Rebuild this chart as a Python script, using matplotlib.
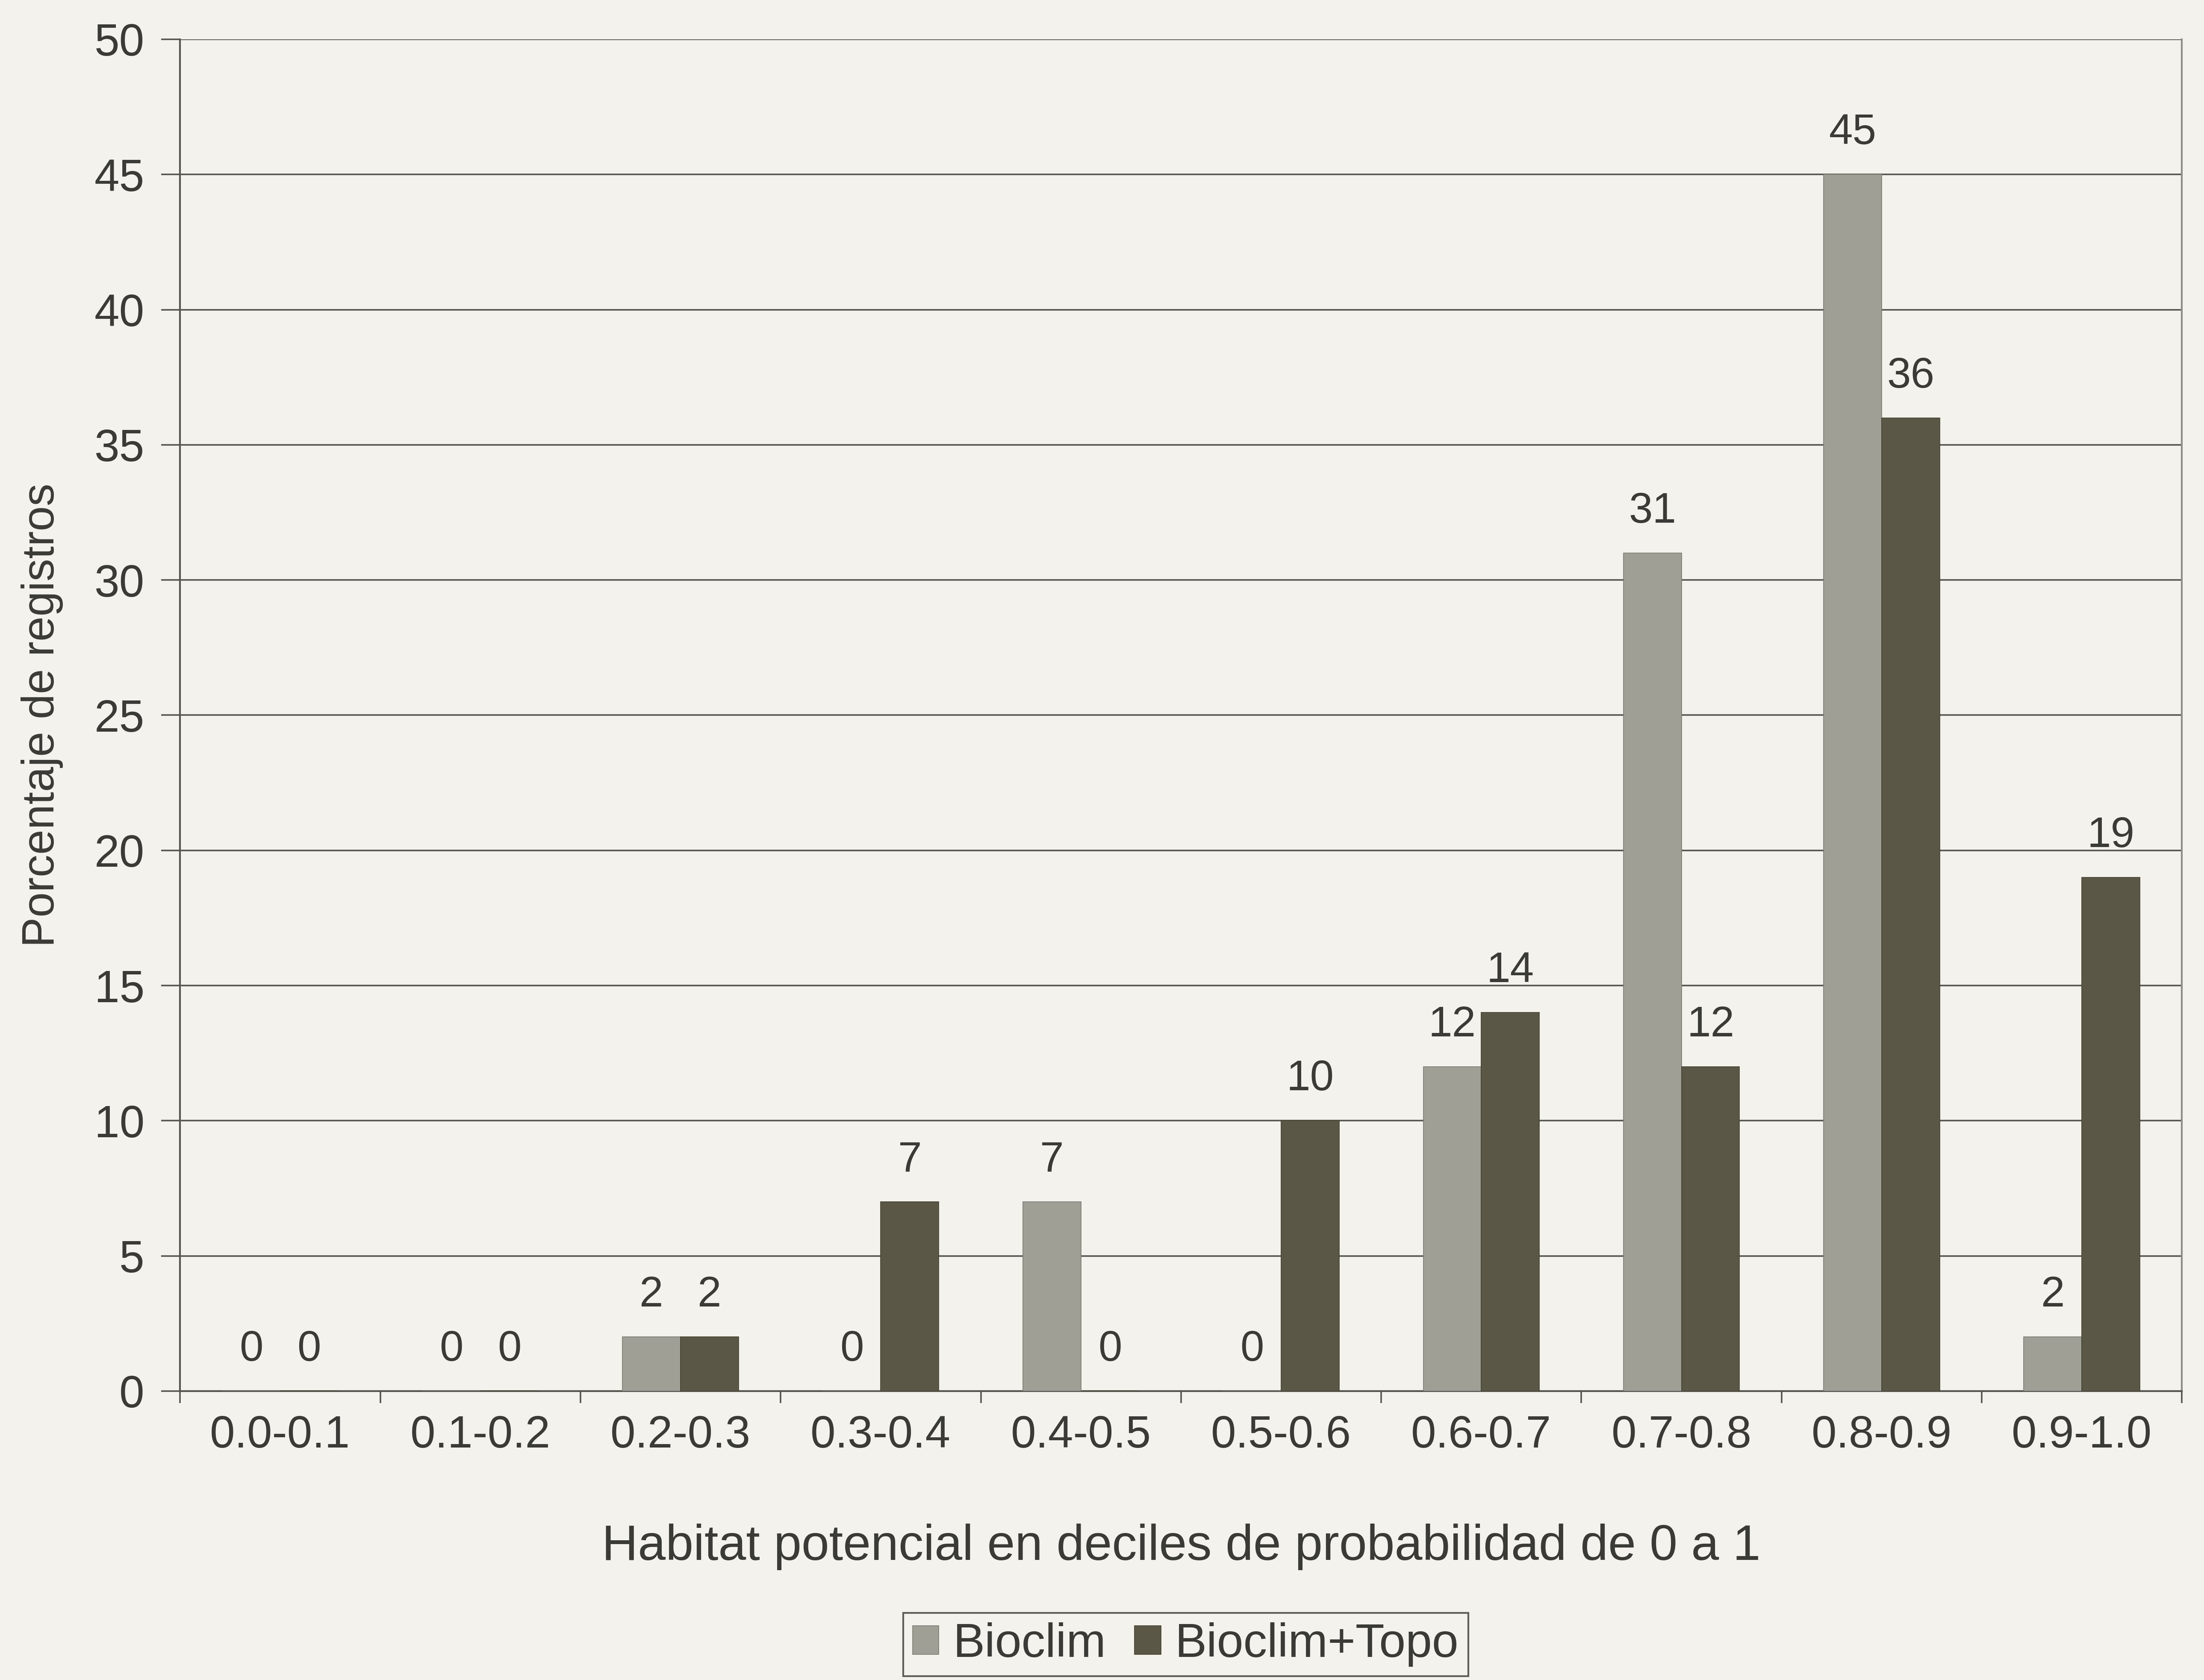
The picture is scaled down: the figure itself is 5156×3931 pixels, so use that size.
import numpy as np
import matplotlib
matplotlib.use("Agg")
import matplotlib.pyplot as plt

categories = ["0.0-0.1", "0.1-0.2", "0.2-0.3", "0.3-0.4", "0.4-0.5",
              "0.5-0.6", "0.6-0.7", "0.7-0.8", "0.8-0.9", "0.9-1.0"]
bioclim = [0, 0, 2, 0, 7, 0, 12, 31, 45, 2]
bioclim_topo = [0, 0, 2, 7, 0, 10, 14, 12, 36, 19]
series_names = ["Bioclim", "Bioclim+Topo"]
y_ticks = [0, 5, 10, 15, 20, 25, 30, 35, 40, 45, 50]

BG = "#f3f2ec"
LIGHT = "#9f9f96"
DARK = "#5a5747"
INK = "#3a3a36"
GRID = "#55554f"

main_font = ["Liberation Sans", "DejaVu Sans"]

DPI = 200
fig = plt.figure(figsize=(5156 / DPI, 3931 / DPI), dpi=DPI, facecolor=BG)
ax = fig.add_axes([0.0817, 0.172, 0.9083, 0.8046], facecolor=BG)

x = np.arange(len(categories))
w = 0.29
ax.bar(x - w / 2, bioclim, width=w, color=LIGHT, edgecolor="#7a7a72",
       linewidth=0.6, label=series_names[0], zorder=3)
ax.bar(x + w / 2, bioclim_topo, width=w, color=DARK, edgecolor="#45422f",
       linewidth=0.6, label=series_names[1], zorder=3)

# value labels above every bar
for offsets, values in ((x - w / 2, bioclim), (x + w / 2, bioclim_topo)):
    for xi, v in zip(offsets, values):
        ax.annotate(f"{v}", (xi, v), xytext=(0, 18), textcoords="offset points",
                    ha="center", va="bottom", fontsize=36, color=INK,
                    family=main_font)

ax.set_xlim(-0.5, len(categories) - 0.5)
ax.set_ylim(0, 50)
ax.set_yticks(y_ticks)
ax.set_yticklabels([str(t) for t in y_ticks], fontsize=38, color=INK,
                   family=main_font)
ax.yaxis.grid(True, color=GRID, linewidth=1.3, zorder=0)
ax.set_axisbelow(True)

# category labels centred, tick marks on the boundaries
ax.set_xticks(x)
ax.set_xticklabels(categories, fontsize=38, color=INK, family=main_font)
ax.tick_params(axis="x", which="major", length=0, pad=20)
ax.set_xticks(np.arange(-0.5, len(categories) + 0.5, 1), minor=True)
ax.tick_params(axis="x", which="minor", length=10, width=1.3, color=GRID)
ax.tick_params(axis="y", length=16, width=1.3, color=GRID, pad=14)

ax.spines["top"].set_visible(False)
ax.spines["right"].set_color("#8e8e88")
ax.spines["right"].set_linewidth(1.5)
ax.spines["left"].set_color(GRID)
ax.spines["left"].set_linewidth(1.5)
ax.spines["bottom"].set_color(GRID)
ax.spines["bottom"].set_linewidth(1.5)

ax.set_xlabel("Habitat potencial en deciles de probabilidad de 0 a 1",
              fontsize=42, color=INK, family=main_font, labelpad=56)
ax.set_ylabel("Porcentaje de registros", fontsize=38, color=INK,
              family=main_font, labelpad=26)

leg = fig.legend(loc="upper center", bbox_to_anchor=(0.538, 0.0400), ncol=2,
                 frameon=True, fancybox=False, borderaxespad=0.0,
                 handlelength=0.55, handleheight=0.55, handletextpad=0.3,
                 columnspacing=0.6, borderpad=0.2,
                 prop={"family": main_font, "size": 40})
leg.get_frame().set_edgecolor(INK)
leg.get_frame().set_linewidth(1.5)
leg.get_frame().set_facecolor(BG)
for t in leg.get_texts():
    t.set_color(INK)

fig.savefig("out.png", dpi=DPI, facecolor=BG)
